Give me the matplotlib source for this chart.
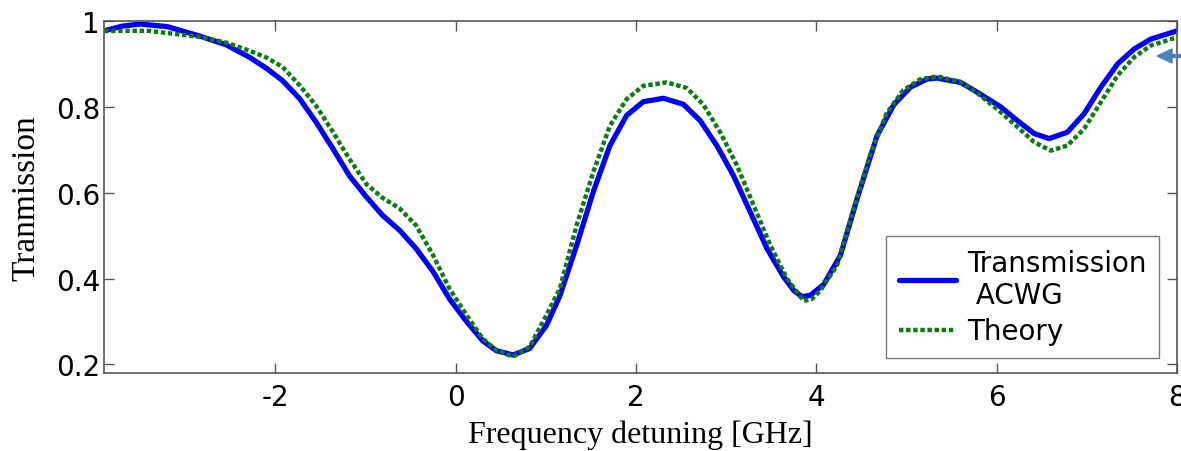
import matplotlib
matplotlib.use("Agg")
import matplotlib.pyplot as plt

plt.rcParams['axes.unicode_minus'] = False

# values
freq_acwg = [-3.9, -3.7, -3.5, -3.2, -2.84, -2.55, -2.29, -2.1, -1.92, -1.73,
             -1.55, -1.36, -1.18, -0.99, -0.81, -0.62, -0.44, -0.25, -0.07, 0.12,
             0.30, 0.45, 0.637, 0.82, 1.007, 1.156, 1.341, 1.526, 1.711, 1.896,
             2.081, 2.304, 2.526, 2.711, 2.896, 3.081, 3.267, 3.452, 3.637, 3.75,
             3.84, 3.933, 4.081, 4.267, 4.452, 4.674, 4.859, 5.044, 5.23, 5.341,
             5.6, 5.785, 6.044, 6.23, 6.415, 6.581, 6.785, 6.97, 7.156, 7.341,
             7.526, 7.711, 8.0]
trans_acwg = [0.977, 0.988, 0.993, 0.987, 0.965, 0.945, 0.916, 0.89, 0.861, 0.819,
              0.765, 0.702, 0.64, 0.59, 0.547, 0.512, 0.47, 0.416, 0.353, 0.30,
              0.255, 0.232, 0.222, 0.237, 0.291, 0.36, 0.477, 0.602, 0.71, 0.78,
              0.812, 0.82, 0.806, 0.768, 0.71, 0.64, 0.555, 0.47, 0.404, 0.372,
              0.358, 0.361, 0.386, 0.454, 0.586, 0.733, 0.805, 0.846, 0.865, 0.867,
              0.857, 0.834, 0.80, 0.768, 0.738, 0.726, 0.741, 0.784, 0.846, 0.90,
              0.935, 0.958, 0.977]

freq_theory = [-3.9, -3.4, -2.84, -2.55, -2.29, -2.1, -1.92, -1.73, -1.55, -1.36,
               -1.18, -0.99, -0.81, -0.62, -0.44, -0.25, -0.07, 0.12, 0.30, 0.45,
               0.637, 0.82, 1.007, 1.156, 1.341, 1.526, 1.711, 1.896, 2.081, 2.341,
               2.563, 2.748, 2.933, 3.119, 3.304, 3.489, 3.674, 3.859, 3.95, 4.044,
               4.23, 4.415, 4.6, 4.78, 4.96, 5.15, 5.341, 5.6, 5.785, 6.044,
               6.23, 6.415, 6.6, 6.785, 6.97, 7.156, 7.341, 7.526, 7.711, 8.0]
trans_theory = [0.977, 0.977, 0.963, 0.95, 0.931, 0.915, 0.893, 0.85, 0.803, 0.741,
                0.679, 0.62, 0.588, 0.563, 0.524, 0.454, 0.377, 0.315, 0.26, 0.233,
                0.218, 0.241, 0.315, 0.377, 0.524, 0.648, 0.756, 0.818, 0.849, 0.857,
                0.844, 0.805, 0.741, 0.664, 0.571, 0.478, 0.40, 0.348, 0.352, 0.372,
                0.431, 0.563, 0.69, 0.785, 0.838, 0.864, 0.871, 0.858, 0.832, 0.788,
                0.753, 0.718, 0.698, 0.71, 0.749, 0.811, 0.873, 0.916, 0.943, 0.962]

xticks = [-2, 0, 2, 4, 6, 8]
yticks = [0.2, 0.4, 0.6, 0.8, 1.0]
ytick_labels = ["0.2", "0.4", "0.6", "0.8", "1"]

fig = plt.figure(figsize=(11.81, 4.52), dpi=100)
ax = fig.add_axes([0.0881, 0.1726, 0.9085, 0.7787])

ax.plot(freq_acwg, trans_acwg, color="#0000ff", lw=3.8, label="Transmission\n ACWG",
        solid_capstyle="round", solid_joinstyle="round")
ax.plot(freq_theory, trans_theory, color="#117a11", lw=3.2, ls=(0, (1, 0.6)),
        label="Theory", dash_joinstyle="round")

ax.set_xlim(-3.9, 8)
ax.set_ylim(0.18, 1.0)
ax.set_xticks(xticks)
ax.set_yticks(yticks)
ax.set_yticklabels(ytick_labels)
ax.tick_params(direction="in", length=7, width=1, top=True, right=True,
               labelsize=20, colors="#555555", labelcolor="black")
ax.tick_params(axis="x", pad=7)
ax.tick_params(axis="y", pad=3)
for lab in ax.get_xticklabels() + ax.get_yticklabels():
    lab.set_family("DejaVu Sans")
for sp in ax.spines.values():
    sp.set_color("#555555")
    sp.set_linewidth(1.2)

ax.set_xlabel("Frequency detuning [GHz]", family="Liberation Serif", fontsize=23,
              labelpad=6)
ax.set_ylabel("Tranmission", family="Liberation Serif", fontsize=24, labelpad=10)

leg = ax.legend(loc="lower right", bbox_to_anchor=(0.983, 0.043),
                prop={"family": "DejaVu Sans", "size": 20}, frameon=True,
                fancybox=False, edgecolor="#555555", handlelength=2.05,
                handletextpad=0.4, borderpad=0.45, labelspacing=0.3,
                borderaxespad=0)
leg.get_frame().set_linewidth(1.0)

# small arrow at the right edge
fig.patches.append(matplotlib.patches.FancyArrow(
    1.0, 1 - 57 / 452, -0.0203, 0, width=0.0066, head_width=0.031,
    head_length=0.0127, length_includes_head=True, color="#4f81bd",
    transform=fig.transFigure, figure=fig))

fig.savefig("out.png", dpi=100)
